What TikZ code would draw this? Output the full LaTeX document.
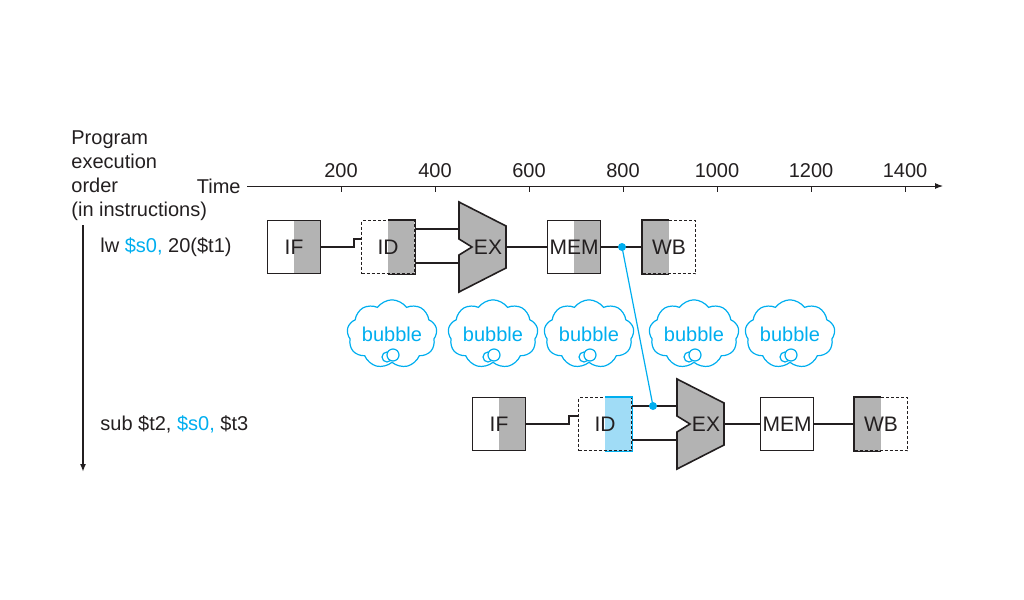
\documentclass[tikz,border=0pt]{standalone}
\usepackage{fontspec}
\setmainfont{Liberation Sans}
\usetikzlibrary{positioning,arrows.meta,shapes.symbols}
\definecolor{InkDark}{HTML}{231F20}
\definecolor{StageGray}{HTML}{B3B3B3}
\definecolor{HazardCyan}{HTML}{00AEEF}
\definecolor{HazardLight}{HTML}{A0DCF6}

\tikzset{
  stage/.style={draw=InkDark, line width=0.8pt, minimum width=26.5pt, minimum height=26.5pt,
    inner sep=0pt, font=\fontsize{10.5}{12}\selectfont, text=InkDark},
  shaderight/.style={path picture={\fill[#1] (path picture bounding box.north)
    rectangle (path picture bounding box.south east);}},
  shaderight/.default=StageGray,
  shadeleft/.style={path picture={\fill[StageGray] (path picture bounding box.north west)
    rectangle (path picture bounding box.south);}},
  halfdash/.style={dash pattern=on 1.5pt off 1pt},
  wire/.style={draw=InkDark, line width=0.8pt},
  bubblecloud/.style={cloud, cloud puffs=9, cloud puff arc=110, aspect=1.5, draw=HazardCyan,
    line width=0.6pt, minimum width=45pt, minimum height=30pt, text=HazardCyan, inner sep=0pt},
  bubbletail/.style={draw=HazardCyan, fill=white, line width=0.6pt},
  fwddot/.style={circle, fill=HazardCyan, inner sep=0pt, minimum size=4pt},
  alu/.pic={
    \filldraw[fill=StageGray, draw=InkDark, line width=0.8pt]
      (0,-45) -- (0,-8) -- (13,0) -- (0,8) -- (0,45) -- (47,21) -- (47,-21) -- cycle;
    \coordinate (-in1) at (0,-18);
    \coordinate (-in2) at (0,16);
    \coordinate (-out) at (47,0);
    \node[font=\fontsize{10.5}{12}\selectfont, text=InkDark] at (29,0) {EX};
  },
}

\begin{document}
\begin{tikzpicture}[x=0.5pt, y=-0.5pt, font=\fontsize{10}{12}\selectfont, text=InkDark]
  \useasboundingbox (0,0) rectangle (1024,600);

  % axes
  \node[anchor=north west, align=left, inner sep=0pt] (order) at (71,130)
    {Program\\execution\\order\\(in instructions)};
  \node[anchor=east, inner sep=0pt] (timelabel) at (241,186) {Time};
  \coordinate (t0) at (247,186);
  \coordinate (tend) at (943,186);
  \draw[InkDark, line width=0.5pt, -{Latex[length=4pt,width=3pt]}] (t0) -- (tend);
  \foreach \t in {200,400,...,1400} {
    \draw[InkDark, line width=0.5pt] ({247+0.47*\t},186) -- ({247+0.47*\t},192);
    \node at ({247+0.47*\t},171) {\t};
  }
  \coordinate (ordtop) at (83,225);
  \coordinate (ordend) at (83,472);
  \draw[InkDark, line width=0.8pt, -{Latex[length=4pt,width=3pt]}] (ordtop) -- (ordend);

  \node[anchor=west, inner sep=0pt] (lw) at (100,247)
    {lw \textcolor{HazardCyan}{\$s0,} 20(\$t1)};
  \node[anchor=west, inner sep=0pt] (sub) at (100,424)
    {sub \$t2, \textcolor{HazardCyan}{\$s0,} \$t3};

  % lw pipeline
  \node[stage, shaderight] (if1) at (294,247) {IF};
  \node[stage, halfdash, shaderight] (id1) at (388,247) {ID};
  \draw[wire] (id1.north) -- (id1.north east) -- (id1.south east) -- (id1.south);
  \pic (ex1) at (459,247) {alu};
  \node[stage, shaderight] (mem1) at (574,247) {MEM};
  \node[stage, halfdash, shadeleft] (wb1) at (669,247) {WB};
  \draw[wire] (wb1.north) -- (wb1.north west) -- (wb1.south west) -- (wb1.south);

  \draw[wire] (if1.east) -- ([xshift=-3.5pt]id1.west) |- ([yshift=4pt]id1.west);
  \draw[wire] (ex1-in1 -| id1.east) -- (ex1-in1);
  \draw[wire] (ex1-in2 -| id1.east) -- (ex1-in2);
  \draw[wire] (ex1-out) -- (mem1.west);
  \draw[wire] (mem1) -- (wb1);

  % sub pipeline
  \node[stage, shaderight] (if2) at (499,424) {IF};
  \node[stage, halfdash, shaderight=HazardLight] (id2) at (605,424) {ID};
  \draw[draw=HazardCyan, line width=0.8pt] (id2.north) -- (id2.north east) -- (id2.south east) -- (id2.south);
  \pic (ex2) at (677,424) {alu};
  \node[stage] (mem2) at (787,424) {MEM};
  \node[stage, halfdash, shadeleft] (wb2) at (881,424) {WB};
  \draw[wire] (wb2.north) -- (wb2.north west) -- (wb2.south west) -- (wb2.south);

  \draw[wire] (if2.east) -- ([xshift=-4.5pt]id2.west) |- ([yshift=4pt]id2.west);
  \draw[wire] (ex2-in1 -| id2.east) -- (ex2-in1);
  \draw[wire] (ex2-in2 -| id2.east) -- (ex2-in2);
  \draw[wire] (ex2-out) -- (mem2.west);
  \draw[wire] (mem2) -- (wb2);

  % forwarding
  \node[fwddot] (fwd1) at (622,247) {};
  \node[fwddot] (fwd2) at (653,406) {};
  \draw[HazardCyan, line width=0.6pt] (fwd1.center) -- (fwd2.center);

  % bubbles
  \foreach \bx [count=\i] in {392,493,589,694,790} {
    \node[bubblecloud] (bub\i) at (\bx,334) {bubble};
    \draw[bubbletail] ([xshift=-2.5pt,yshift=-11.5pt]bub\i.center) circle (2.5pt);
    \draw[bubbletail] ([xshift=0.5pt,yshift=-10.5pt]bub\i.center) circle (3pt);
  }
\end{tikzpicture}
\end{document}
